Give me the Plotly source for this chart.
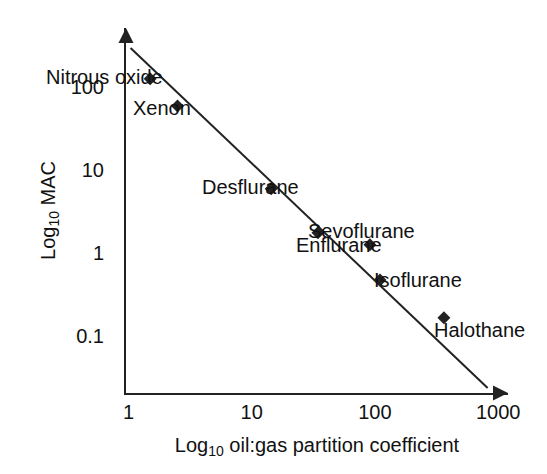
import math
import plotly.graph_objects as go

agents = ["Nitrous oxide", "Xenon", "Desflurane", "Sevoflurane", "Enflurane", "Isoflurane", "Halothane"]
oil_gas = [1.5, 2.5, 14.4, 34.5, 91, 110, 363]
mac = [125, 59, 5.9, 1.74, 1.25, 0.47, 0.165]
label_side = ["right", "right", "right", "left", "right", "left", "left"]
line_x = [1.04, 822]
line_y = [295, 0.0235]
x_ticks = [1, 10, 100, 1000]
y_ticks = [0.1, 1, 10, 100]
y_ticklabels = ["0.1", "1", "10", "100"]

font = "Liberation Sans, Arial"
fig = go.Figure()
fig.add_trace(go.Scatter(x=line_x, y=line_y, mode="lines", line=dict(color="#222", width=2), showlegend=False))
fig.add_trace(go.Scatter(x=oil_gas, y=mac, mode="markers", marker=dict(symbol="diamond", size=10, color="#222"), showlegend=False))
offsets = {"Nitrous oxide": (15, 2), "Xenon": (15, -2), "Desflurane": (30, 2), "Sevoflurane": (-12, 2),
           "Enflurane": (14, 0), "Isoflurane": (-8, 0), "Halothane": (-12, -12)}
for a, x, y, side in zip(agents, oil_gas, mac, label_side):
    dx, dy = offsets[a]
    fig.add_annotation(x=math.log10(x), y=math.log10(y), xref="x", yref="y", text=a, showarrow=False,
                       xshift=dx, yshift=dy, xanchor=side, font=dict(size=20, color="#111", family=font))
fig.add_annotation(x=1, y=0, xref="paper", yref="paper", ax=-10, ay=0, axref="pixel", ayref="pixel",
                   showarrow=True, arrowhead=2, arrowsize=1.5, arrowwidth=2, arrowcolor="#222", text="")
fig.add_annotation(x=0, y=1, xref="paper", yref="paper", ax=0, ay=10, axref="pixel", ayref="pixel",
                   showarrow=True, arrowhead=2, arrowsize=1.5, arrowwidth=2, arrowcolor="#222", text="")
fig.update_xaxes(type="log", range=[-0.02, 3.08], tickvals=x_ticks, ticktext=["1", "10", "100", "1000"],
                 showgrid=False, zeroline=False, showline=True, linecolor="#222", linewidth=2, ticks="",
                 tickfont=dict(size=20, family=font, color="#111"),
                 title=dict(text="Log<sub>10</sub> oil:gas partition coefficient", font=dict(size=20, family=font, color="#111"), standoff=16))
fig.update_yaxes(type="log", range=[-1.69, 2.71], tickvals=y_ticks, ticktext=y_ticklabels,
                 showgrid=False, zeroline=False, showline=True, linecolor="#222", linewidth=2, ticks="",
                 tickfont=dict(size=20, family=font, color="#111"), ticklabelstandoff=16,
                 title=dict(text="Log<sub>10</sub> MAC", font=dict(size=20, family=font, color="#111"), standoff=10))
fig.update_layout(width=547, height=474, margin=dict(l=118, r=47, t=20, b=89),
                  plot_bgcolor="white", paper_bgcolor="white")
fig.write_html("out.html")
